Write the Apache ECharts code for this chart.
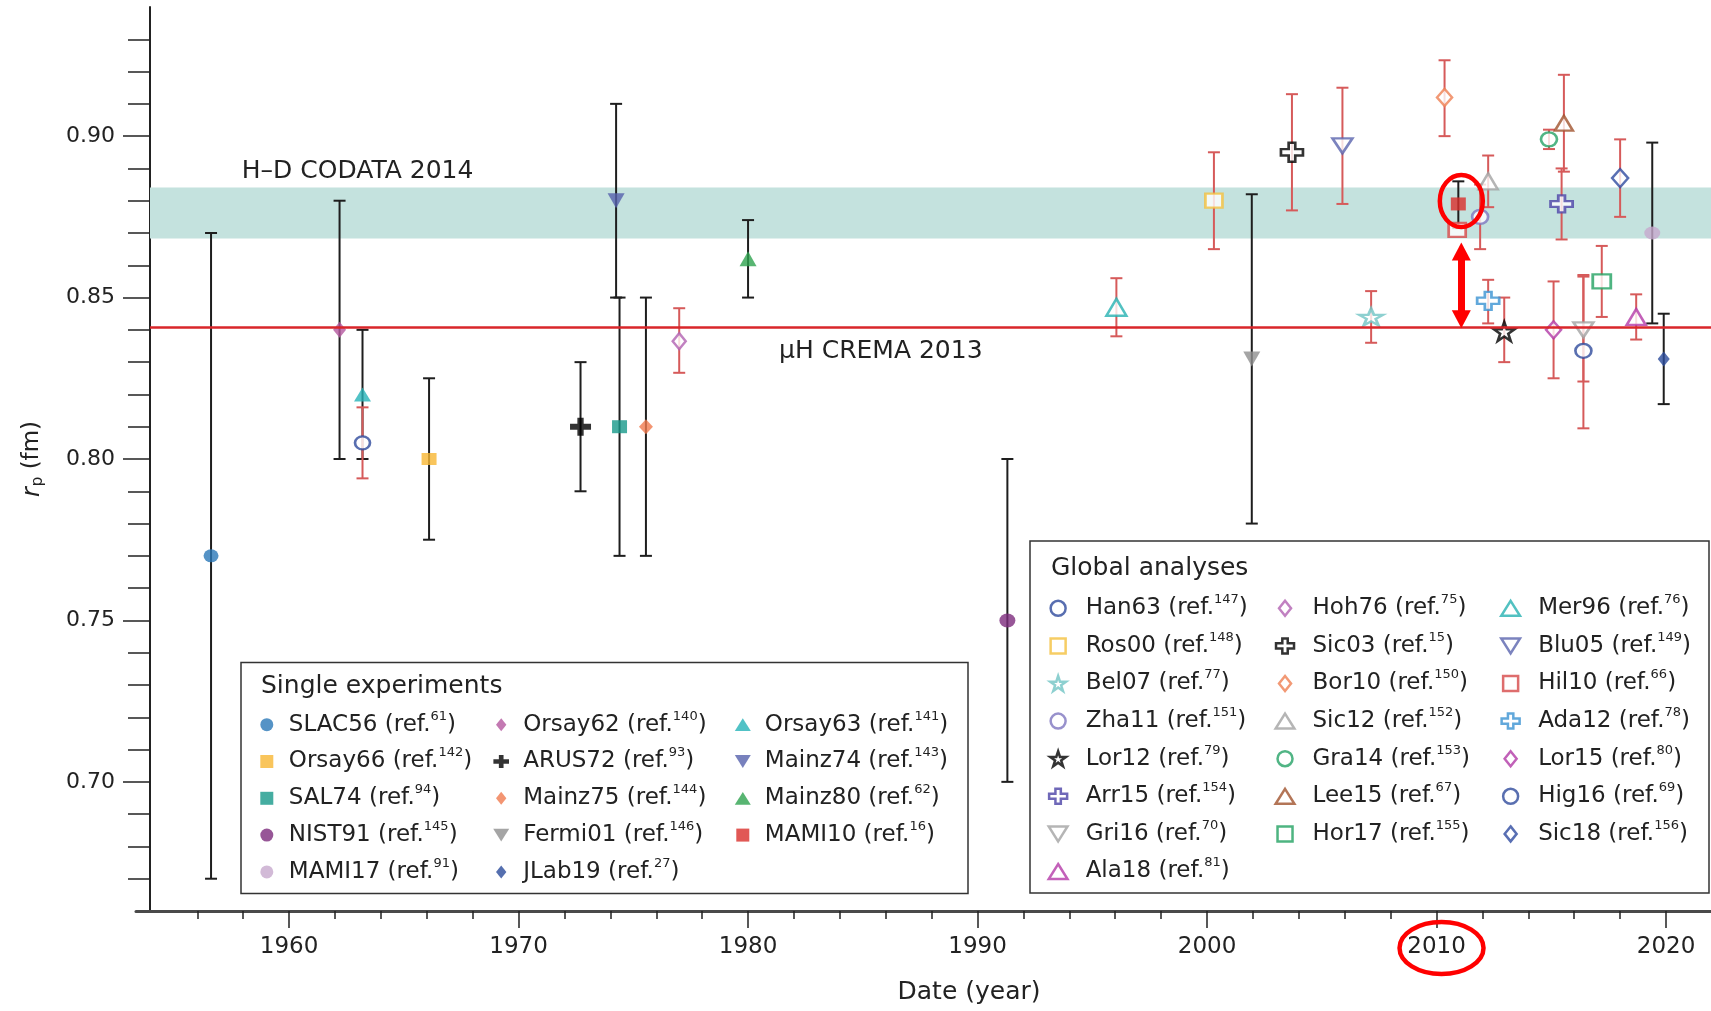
<!DOCTYPE html>
<html><head><meta charset="utf-8">
<script src="https://cdn.jsdelivr.net/npm/echarts@6/dist/echarts.min.js"></script>
<style>html,body{margin:0;padding:0;background:#fff}#c{width:1711px;height:1011px}</style>
</head><body><div id="c"></div>
<script>
// ---------------- DATA ----------------
const singleNames  = ['SLAC56','Orsay62','Orsay63','Orsay66','ARUS72','Mainz74','SAL74','Mainz75','Mainz80','NIST91','Fermi01','MAMI10','MAMI17','JLab19'];
const singleRefs   = ['61','140','141','142','93','143','94','144','62','145','146','16','91','27'];
const singleYears  = [1956.6,1962.2,1963.2,1966.1,1972.7,1974.25,1974.4,1975.55,1980.0,1991.3,2001.95,2010.95,2019.4,2019.9];
const singleValues = [0.770,0.840,0.820,0.800,0.810,0.880,0.810,0.810,0.862,0.750,0.831,0.879,0.870,0.831];
const singleLow    = [0.670,0.800,0.800,0.775,0.790,0.850,0.770,0.770,0.850,0.700,0.780,0.8715,0.842,0.817];
const singleHigh   = [0.870,0.880,0.840,0.825,0.830,0.910,0.850,0.850,0.874,0.800,0.882,0.886,0.898,0.845];

const globalNames  = ['Han63','Hoh76','Mer96','Ros00','Sic03','Blu05','Bel07','Bor10','Hil10','Zha11','Sic12','Ada12','Lor12','Gra14','Lor15','Arr15','Lee15','Hig16','Gri16','Hor17','Sic18','Ala18'];
const globalRefs   = ['147','75','76','148','15','149','77','150','66','151','152','78','79','153','80','154','67','69','70','155','156','81'];
const globalYears  = [1963.2,1977.0,1996.05,2000.3,2003.7,2005.9,2007.15,2010.35,2010.9,2011.9,2012.25,2012.25,2012.95,2014.9,2015.1,2015.45,2015.55,2016.4,2016.4,2017.2,2018.0,2018.7];
const globalValues = [0.805,0.8365,0.847,0.880,0.895,0.897,0.844,0.912,0.871,0.875,0.886,0.849,0.8395,0.899,0.840,0.879,0.904,0.8335,0.840,0.855,0.887,0.844];
const globalLow    = [0.794,0.8267,0.838,0.865,0.877,0.879,0.836,0.900,0.871,0.865,0.878,0.842,0.830,0.896,0.825,0.868,0.889,0.8095,0.824,0.844,0.875,0.837];
const globalHigh   = [0.816,0.8467,0.856,0.895,0.913,0.915,0.852,0.9235,0.871,0.885,0.894,0.8555,0.850,0.902,0.855,0.890,0.919,0.8565,0.857,0.866,0.899,0.851];

const codataLow = 0.8683, codataHigh = 0.8841;   // H-D CODATA 2014 band
const cremaValue = 0.8407;                        // muH CREMA 2013
const arrowYear = 2011.08, arrowTop = 0.8669, arrowBottom = 0.8407;

const xTickMinor = [1956,1958,1960,1962,1964,1966,1968,1970,1972,1974,1976,1978,1980,1982,1984,1986,1988,1990,1992,1994,1996,1998,2000,2002,2004,2006,2008,2010,2012,2014,2016,2018,2020];
const xTickMajor = [1960,1970,1980,1990,2000,2010,2020];
const yTickMinor = [0.67,0.68,0.69,0.70,0.71,0.72,0.73,0.74,0.75,0.76,0.77,0.78,0.79,0.80,0.81,0.82,0.83,0.84,0.85,0.86,0.87,0.88,0.89,0.90,0.91,0.92,0.93];
const yTickMajor = [0.70,0.75,0.80,0.85,0.90];

const singleLegendCols = [['SLAC56','Orsay66','SAL74','NIST91','MAMI17'],['Orsay62','ARUS72','Mainz75','Fermi01','JLab19'],['Orsay63','Mainz74','Mainz80','MAMI10']];
const globalLegendCols = [['Han63','Ros00','Bel07','Zha11','Lor12','Arr15','Gri16','Ala18'],['Hoh76','Sic03','Bor10','Sic12','Gra14','Lee15','Hor17'],['Mer96','Blu05','Hil10','Ada12','Lor15','Hig16','Sic18']];

// ---------------- STYLES ----------------
const FONT = 'DejaVu Sans';
const SYM = {
  circle:  'path://M0,50A50,50,0,1,1,100,50A50,50,0,1,1,0,50Z',
  square:  'path://M0,0H100V100H0Z',
  diamond: 'path://M40,0L80,50L40,100L0,50Z',
  triUp:   'path://M50,0L100,80L0,80Z',
  triDown: 'path://M0,0L100,0L50,80Z',
  plus:    'path://M42,0H78V33H120V67H78V100H42V67H0V33H42Z',
  star:    'path://M50,0L61.2,34.5L97.6,34.5L68.2,55.9L79.4,90.5L50,69.1L20.6,90.5L31.8,55.9L2.4,34.5L38.8,34.5Z'
};
const styleMap = {
  SLAC56:['circle','#2b78b8',[15,13]], Orsay62:['diamond','#b4589f',[13,16]], Orsay63:['triUp','#25b3b8',[17,14]],
  Orsay66:['square','#f7b733',[15,12]], ARUS72:['plus','#000000',[21,18]], Mainz74:['triDown','#5661ad',[17,15]],
  SAL74:['square','#17998a',[15,13]], Mainz75:['diamond','#f07b4f',[14,15]], Mainz80:['triUp','#2ea24f',[17,15]],
  NIST91:['circle','#7d2c7d',[16,14]], Fermi01:['triDown','#8e8e8e',[17,15]], MAMI10:['square','#d92e2b',[15,13]],
  MAMI17:['circle','#c7a9cd',[16,13]], JLab19:['diamond','#2b4b9b',[12,15]],
  Han63:['circle','#2e4a9c',[15,13]], Hoh76:['diamond','#b262b2',[13,16]], Mer96:['triUp','#27b2b2',[20,17]],
  Ros00:['square','#f4c13f',[17,14]], Sic03:['plus','#000000',[22,19]], Blu05:['triDown','#5a64ae',[20,15]],
  Bel07:['star','#70c4c4',[24,17]], Bor10:['diamond','#ef8052',[15,17]], Hil10:['square','#d64848',[17,14]],
  Zha11:['circle','#7e76bf',[16,14]], Sic12:['triUp','#a3a3a3',[19,16]], Ada12:['plus','#3a92d2',[22,18]],
  Lor12:['star','#000000',[21,19]], Gra14:['circle','#25a267',[16,14]], Lor15:['diamond','#b23aa6',[15,17]],
  Arr15:['plus','#4b42a6',[22,17]], Lee15:['triUp','#a0522d',[18,15]], Hig16:['circle','#2f4b9c',[16,14]],
  Gri16:['triDown','#a3a3a3',[20,15]], Hor17:['square','#22a162',[18,14]], Sic18:['diamond','#2f4ba0',[16,18]],
  Ala18:['triUp','#b43aa8',[19,16]]
};

const X0 = 1953.33, X1 = 2021.96;
const GRID = {left:136, right:0, top:7, bottom:100, containLabel:false, outerBoundsMode:'none'};
const yAxisYear = X0 + 14 * (X1 - X0) / (1711 - GRID.left - GRID.right);

const refOf = {};
singleNames.forEach((n,i)=>refOf[n]=singleRefs[i]);
globalNames.forEach((n,i)=>refOf[n]=globalRefs[i]);

function itemStyleFor(name, hollow) {
  const c = styleMap[name][1];
  return hollow ? {color:'#ffffff', borderColor:c, borderWidth:2.5} : {color:c, borderWidth:0};
}

function makeErr(color, width) {
  return function (params, api) {
    const x = api.value(0), lo = api.value(1), hi = api.value(2);
    if (lo === hi) return null;
    const p1 = api.coord([x, lo]), p2 = api.coord([x, hi]);
    const hw = 6;
    const st = {stroke: color, lineWidth: width};
    return {type:'group', children:[
      {type:'line', shape:{x1:p1[0], y1:p1[1], x2:p2[0], y2:p2[1]}, style:st},
      {type:'line', shape:{x1:p1[0]-hw, y1:p1[1], x2:p1[0]+hw, y2:p1[1]}, style:st},
      {type:'line', shape:{x1:p2[0]-hw, y1:p2[1], x2:p2[0]+hw, y2:p2[1]}, style:st}
    ]};
  };
}

const series = [];
series.push({
  type:'scatter', name:'__ref', data:[], z:1, silent:true,
  markArea:{silent:true, itemStyle:{color:'#c4e2de'}, data:[[{coord:[yAxisYear, codataLow]},{coord:[X1, codataHigh]}]]},
  markLine:{silent:true, symbol:['none','none'], label:{show:false}, lineStyle:{color:'#d9262a', width:2.5, type:'solid'},
    data:[[{coord:[yAxisYear, cremaValue]},{coord:[X1, cremaValue]}]]}
});
series.push({type:'custom', name:'__errSingle', silent:true, z:2, renderItem: makeErr('#1e1e1e', 2),
  encode:{x:0, y:[1,2]}, data: singleYears.map((y,i)=>[y, singleLow[i], singleHigh[i]])});
series.push({type:'custom', name:'__errGlobal', silent:true, z:2, renderItem: makeErr('#d65a5a', 2),
  encode:{x:0, y:[1,2]}, data: globalYears.map((y,i)=>[y, globalLow[i], globalHigh[i]])});
singleNames.forEach((n,i)=>{
  const s = styleMap[n];
  series.push({type:'scatter', name:n, z:3, symbol:SYM[s[0]], symbolSize:s[2], itemStyle:itemStyleFor(n,false),
    data:[[singleYears[i], singleValues[i]]]});
});
globalNames.forEach((n,i)=>{
  const s = styleMap[n];
  series.push({type:'scatter', name:n, z:3, symbol:SYM[s[0]], symbolSize:s[2], itemStyle:itemStyleFor(n,true),
    data:[[globalYears[i], globalValues[i]]]});
});
series.push({
  type:'scatter', name:'__arrow', data:[], z:6, silent:true,
  markLine:{silent:true, label:{show:false}, symbol:['triangle','triangle'], symbolSize:[19,18],
    lineStyle:{color:'#ff0000', width:7, type:'solid'}, itemStyle:{color:'#ff0000'},
    data:[[{coord:[arrowYear, arrowTop - 0.0026]},{coord:[arrowYear, arrowBottom + 0.0026]}]]}
});

const rich = {
  g1:{width:9, fontSize:23, lineHeight:30},
  g2:{width:12.5, fontSize:23, lineHeight:30},
  t:{fontFamily:FONT, fontSize:23, color:'#222', lineHeight:30},
  s:{fontFamily:FONT, fontSize:13, color:'#222', lineHeight:20, verticalAlign:'top'}
};
function mkLegend(names, left, top, gap, iw, ih, spacer, hollow) {
  return {
    orient:'vertical', left:left, top:top, itemGap:gap, itemWidth:iw, itemHeight:ih, padding:0,
    selectedMode:false, z:10, symbolKeepAspect:true,
    data: names.map(n=>({name:n, icon:SYM[styleMap[n][0]], itemStyle:itemStyleFor(n, hollow)})),
    formatter: n => `{${spacer}| }{t|${n} (ref.}{s|${refOf[n]}}{t|)}`,
    textStyle:{fontFamily:FONT, fontSize:23, color:'#222', rich:rich}
  };
}
const legends = [];
[260.3, 493.2, 734.8].forEach((l,i)=>legends.push(mkLegend(singleLegendCols[i], l, 709.7, 10.3, 16, 13, 'g1', false)));
[1047.5, 1274.4, 1500].forEach((l,i)=>legends.push(mkLegend(globalLegendCols[i], l, 593.3, 11.1, 20, 15, 'g2', true)));

const option = {
  animation:false,
  backgroundColor:'#ffffff',
  grid:GRID,
  legend:legends,
  xAxis:[
    {type:'value', min:X0, max:X1, position:'bottom',
     axisLine:{show:true, onZero:false, lineStyle:{color:'#4a4a4a', width:3}},
     axisTick:{show:true, customValues:xTickMinor, length:8, lineStyle:{color:'#222', width:1.5}},
     axisLabel:{show:false}, splitLine:{show:false}},
    {type:'value', min:X0, max:X1, position:'bottom',
     axisLine:{show:false, onZero:false},
     axisTick:{show:true, customValues:xTickMajor, length:17, lineStyle:{color:'#222', width:1.5}},
     axisLabel:{show:true, customValues:xTickMajor, margin:25, fontFamily:FONT, fontSize:23, color:'#222',
       formatter: v => String(Math.round(v))},
     splitLine:{show:false},
     name:'Date (year)', nameLocation:'middle', nameGap:69,
     nameTextStyle:{fontFamily:FONT, fontSize:25, color:'#222', padding:[0,0,0,91]}}
  ],
  yAxis:[
    {type:'value', min:0.66, max:0.94, offset:-14, position:'left',
     axisLine:{show:true, onZero:false, lineStyle:{color:'#222', width:2}},
     axisTick:{show:true, customValues:yTickMinor, length:22, lineStyle:{color:'#222', width:1.5}},
     axisLabel:{show:false}, splitLine:{show:false},
     name:'{i|r}{p|p}{n| (fm)}', nameLocation:'middle', nameRotate:90, nameGap:104,
     nameTextStyle:{rich:{
       i:{fontFamily:FONT, fontStyle:'italic', fontSize:24, color:'#222'},
       p:{fontFamily:FONT, fontSize:15, color:'#222', padding:[12,0,0,1]},
       n:{fontFamily:FONT, fontSize:23, color:'#222'}}}},
    {type:'value', min:0.66, max:0.94, offset:-14, position:'left',
     axisLine:{show:false, onZero:false},
     axisTick:{show:true, customValues:yTickMajor, length:27, lineStyle:{color:'#222', width:1.5}},
     axisLabel:{show:true, customValues:yTickMajor, margin:35, fontFamily:FONT, fontSize:22, color:'#222',
       formatter: v => v.toFixed(2)},
     splitLine:{show:false}}
  ],
  series:series
};

const chart = echarts.init(document.getElementById('c'), null, {renderer:'canvas'});
chart.setOption(option);

const toPx = (x, y) => chart.convertToPixel({gridIndex:0}, [x, y]);
const pCodata = toPx(1957.94, 0.8889);
const pCrema = toPx(1981.35, 0.8333);
const pCircle = toPx(2011.08, 0.8799);
const p2010 = toPx(2010, 0.66);
chart.setOption({graphic:[
  {type:'rect', z:5, shape:{x:241, y:662.5, width:727, height:231}, style:{fill:'#fff', stroke:'#333', lineWidth:1.5}},
  {type:'rect', z:5, shape:{x:1030, y:541, width:679, height:352}, style:{fill:'#fff', stroke:'#333', lineWidth:1.5}},
  {type:'text', z:11, left:261, top:674.4, style:{text:'Single experiments', fontFamily:FONT, fontSize:25, fill:'#222'}},
  {type:'text', z:11, left:1051, top:556.3, style:{text:'Global analyses', fontFamily:FONT, fontSize:25, fill:'#222'}},
  {type:'text', z:11, x:pCodata[0], y:pCodata[1], style:{text:'H–D CODATA 2014', fontFamily:FONT, fontSize:25, fill:'#222', verticalAlign:'middle', align:'left'}},
  {type:'text', z:11, x:pCrema[0], y:pCrema[1], style:{text:'μH CREMA 2013', fontFamily:FONT, fontSize:25, fill:'#222', verticalAlign:'middle', align:'left'}},
  {type:'ellipse', z:12, shape:{cx:pCircle[0], cy:pCircle[1], rx:21.5, ry:26}, style:{fill:null, stroke:'#ff0000', lineWidth:4.5}},
  {type:'ellipse', z:12, shape:{cx:p2010[0]+5, cy:p2010[1]+37, rx:42, ry:26}, style:{fill:null, stroke:'#ff0000', lineWidth:4.5}}
]});
</script>
</body></html>
